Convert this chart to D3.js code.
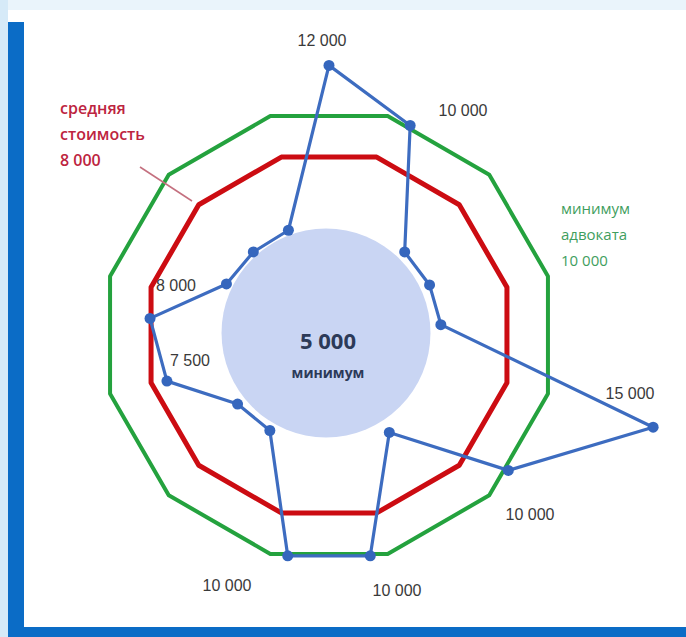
<!DOCTYPE html>
<html>
<head>
<meta charset="utf-8">
<script src="https://d3js.org/d3.v7.min.js"></script>
<style>
  body { margin: 0; background: #fff; }
  svg { display: block; }
</style>
</head>
<body>
<svg id="chart" width="686" height="637"></svg>
<script>
// blue series, 17 spokes clockwise from the top
var values = [12000, 10000, 5000, 5000, 5000, 15000, 10000, 5100, 10000, 10000, 5000, 5100, 7500, 8000, 5100, 5000, 5000];
// which points carry a label
var labelIdx = [0, 1, 5, 6, 8, 9, 12, 13];
var labelText = ["12 000", "10 000", "15 000", "10 000", "10 000", "10 000", "7 500", "8 000"];
var labelPos = [[322, 40], [463, 110], [630, 393], [530, 514], [397, 590], [227, 585], [190, 360], [176, 285]];

var greenLevel = 10000;   // минимум адвоката
var redLevel = 8200;      // средняя стоимость
var circleLevel = 4650;   // минимум (disc)

var redLines = ["средняя", "стоимость", "8 000"];
var greenLines = ["минимум", "адвоката", "10 000"];

var cx = 329, cy = 335;
var svg = d3.select('#chart');

// photo frame
svg.append('rect').attr('x', 0).attr('y', 0).attr('width', 686).attr('height', 10).attr('fill', '#eaf4fb');
svg.append('rect').attr('x', 0).attr('y', 0).attr('width', 8).attr('height', 637).attr('fill', '#d6eaf8');
svg.append('rect').attr('x', 8).attr('y', 22).attr('width', 16).attr('height', 615).attr('fill', '#0b6cc6');
svg.append('rect').attr('x', 8).attr('y', 627).attr('width', 678).attr('height', 10).attr('fill', '#0b6cc6');

var r = d3.scaleLinear().domain([0, 15000]).range([0, 337]);
var angle = d3.scaleLinear().domain([0, values.length]).range([0, 2 * Math.PI]);
var g = svg.append('g').attr('transform', 'translate(' + cx + ',' + cy + ')');

// disc
g.append('circle')
  .attr('cx', -3).attr('cy', -2)
  .attr('r', r(circleLevel))
  .attr('fill', '#c9d5f3');

// 12-gons (flat top)
var sides = d3.range(12);
var poly = d3.lineRadial()
  .angle(function(d) { return (d * 30 + 15) * Math.PI / 180; })
  .curve(d3.curveLinearClosed);

g.append('path')
  .attr('d', poly.radius(r(greenLevel) + 2)(sides))
  .attr('fill', 'none').attr('stroke', '#24a23e').attr('stroke-width', 4)
  .attr('stroke-linejoin', 'round');

g.append('path')
  .attr('d', poly.radius(r(redLevel))(sides))
  .attr('fill', 'none').attr('stroke', '#cc0c12').attr('stroke-width', 5)
  .attr('stroke-linejoin', 'round');

// blue series
var line = d3.lineRadial()
  .angle(function(d, i) { return angle(i); })
  .radius(function(d) { return r(d); })
  .curve(d3.curveLinearClosed);

g.append('path')
  .attr('d', line(values))
  .attr('fill', 'none').attr('stroke', '#3d6cc0').attr('stroke-width', 3.2)
  .attr('stroke-linejoin', 'round');

g.selectAll('circle.pt')
  .data(values)
  .enter().append('circle')
  .attr('class', 'pt')
  .attr('cx', function(d, i) { return r(d) * Math.sin(angle(i)); })
  .attr('cy', function(d, i) { return -r(d) * Math.cos(angle(i)); })
  .attr('r', 5.5)
  .attr('fill', '#3566bd');

// point labels
svg.selectAll('text.lbl')
  .data(labelIdx)
  .enter().append('text')
  .attr('class', 'lbl')
  .attr('x', function(d, i) { return labelPos[i][0]; })
  .attr('y', function(d, i) { return labelPos[i][1]; })
  .attr('text-anchor', 'middle')
  .attr('dominant-baseline', 'central')
  .style('font-family', 'Liberation Sans, sans-serif')
  .style('font-size', '16px')
  .attr('fill', '#3a3a3a')
  .text(function(d, i) { return labelText[i]; });

// centre text
svg.append('text').attr('x', 328).attr('y', 340)
  .attr('text-anchor', 'middle').attr('dominant-baseline', 'central')
  .style('font-family', 'Open Sans, sans-serif').style('font-size', '22px').style('font-weight', 'bold')
  .attr('fill', '#2c3a58').text('5 000');
svg.append('text').attr('x', 328).attr('y', 372)
  .attr('text-anchor', 'middle').attr('dominant-baseline', 'central')
  .style('font-family', 'Open Sans, sans-serif').style('font-size', '14px').style('font-weight', 'bold')
  .attr('fill', '#2c3a58').text('минимум');

// red note + pointer
svg.selectAll('text.red')
  .data(redLines)
  .enter().append('text')
  .attr('class', 'red')
  .attr('x', 60)
  .attr('y', function(d, i) { return 108 + i * 26; })
  .attr('dominant-baseline', 'central')
  .style('font-family', 'Open Sans, sans-serif').style('font-size', '16px').style('font-weight', '600')
  .attr('fill', '#bd2440')
  .text(function(d) { return d; });
svg.append('line')
  .attr('x1', 140).attr('y1', 167).attr('x2', 192).attr('y2', 201)
  .attr('stroke', '#c4707f').attr('stroke-width', 1.5);

// green note
svg.selectAll('text.grn')
  .data(greenLines)
  .enter().append('text')
  .attr('class', 'grn')
  .attr('x', 561)
  .attr('y', function(d, i) { return 208 + i * 26; })
  .attr('dominant-baseline', 'central')
  .style('font-family', 'Open Sans, sans-serif').style('font-size', '15px')
  .attr('fill', '#3f9e5e')
  .text(function(d) { return d; });
</script>
</body>
</html>
